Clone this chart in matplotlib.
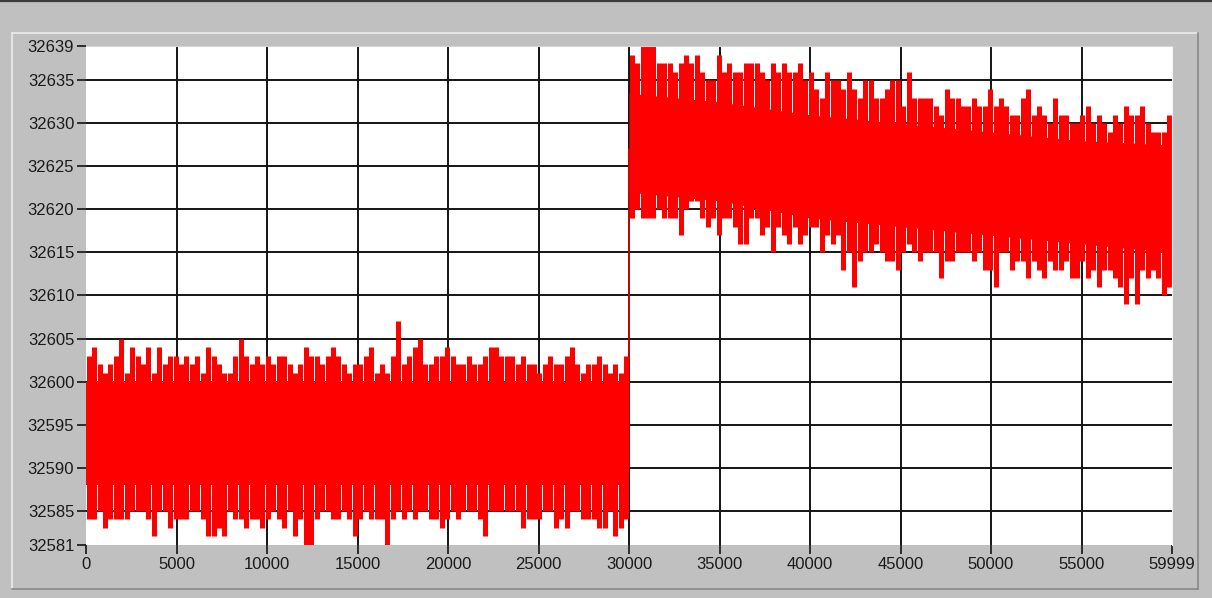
import numpy as np
import matplotlib.pyplot as plt
from matplotlib.lines import Line2D

# samples are grouped in bins of 300; each bin keeps the max / min
BIN = 300

LEFT_HI = [32603, 32604, 32602, 32601, 32602, 32603, 32605, 32601, 32604, 32603,
           32602, 32604, 32601, 32604, 32602, 32603, 32603, 32602, 32603, 32602,
           32603, 32601, 32604, 32603, 32602, 32601, 32601, 32603, 32605, 32603,
           32602, 32603, 32602, 32603, 32602, 32603, 32603, 32602, 32601, 32602,
           32604, 32603, 32603, 32602, 32603, 32604, 32603, 32602, 32601, 32602,
           32602, 32603, 32604, 32601, 32602, 32601, 32603, 32607, 32602, 32603,
           32604, 32605, 32602, 32602, 32603, 32603, 32604, 32603, 32602, 32602,
           32603, 32602, 32602, 32603, 32604, 32604, 32603, 32603, 32603, 32602,
           32603, 32602, 32602, 32601, 32602, 32603, 32602, 32602, 32603, 32604,
           32602, 32601, 32602, 32602, 32603, 32602, 32601, 32602, 32601, 32603]

LEFT_LO = [32584, 32584, 32585, 32583, 32584, 32584, 32584, 32584, 32585, 32585,
           32585, 32584, 32582, 32585, 32585, 32583, 32584, 32584, 32584, 32585,
           32585, 32584, 32582, 32582, 32583, 32582, 32585, 32584, 32584, 32583,
           32584, 32584, 32583, 32584, 32585, 32584, 32583, 32585, 32582, 32584,
           32581, 32581, 32584, 32585, 32585, 32584, 32584, 32585, 32584, 32582,
           32584, 32585, 32584, 32584, 32584, 32581, 32584, 32585, 32584, 32585,
           32584, 32585, 32585, 32584, 32584, 32583, 32584, 32585, 32584, 32585,
           32585, 32585, 32584, 32582, 32585, 32585, 32585, 32585, 32585, 32585,
           32583, 32584, 32584, 32584, 32585, 32585, 32583, 32584, 32583, 32585,
           32585, 32584, 32584, 32584, 32583, 32583, 32585, 32582, 32583, 32584]

RIGHT_HI = [32638, 32637, 32639, 32639, 32639, 32637, 32637, 32637, 32636, 32637,
            32638, 32637, 32638, 32636, 32635, 32635, 32638, 32636, 32637, 32636,
            32636, 32637, 32637, 32637, 32636, 32635, 32637, 32636, 32637, 32636,
            32636, 32637, 32635, 32636, 32634, 32633, 32636, 32635, 32635, 32634,
            32636, 32634, 32633, 32635, 32635, 32633, 32633, 32634, 32635, 32635,
            32632, 32636, 32633, 32633, 32633, 32633, 32632, 32631, 32634, 32633,
            32633, 32632, 32632, 32633, 32632, 32632, 32634, 32632, 32633, 32632,
            32631, 32631, 32633, 32634, 32631, 32632, 32631, 32630, 32633, 32631,
            32631, 32630, 32630, 32631, 32632, 32630, 32631, 32630, 32629, 32631,
            32630, 32632, 32631, 32631, 32632, 32630, 32629, 32629, 32629, 32631]

RIGHT_LO = [32619, 32620, 32619, 32619, 32619, 32620, 32619, 32619, 32619, 32617,
            32620, 32621, 32621, 32619, 32618, 32619, 32617, 32619, 32619, 32618,
            32616, 32616, 32619, 32619, 32617, 32618, 32615, 32618, 32617, 32616,
            32618, 32616, 32617, 32618, 32618, 32615, 32617, 32616, 32617, 32613,
            32615, 32611, 32614, 32615, 32615, 32616, 32615, 32614, 32614, 32613,
            32615, 32616, 32615, 32614, 32615, 32615, 32615, 32612, 32614, 32614,
            32615, 32615, 32615, 32614, 32615, 32613, 32613, 32611, 32615, 32615,
            32613, 32614, 32614, 32612, 32614, 32613, 32612, 32614, 32613, 32613,
            32614, 32612, 32612, 32614, 32612, 32613, 32611, 32613, 32613, 32612,
            32611, 32609, 32612, 32609, 32613, 32612, 32613, 32612, 32610, 32611]

# solid part of each band (where every column is filled)
CORE_LEFT_X = [0, 29999]
CORE_LEFT_TOP = [32600, 32600]
CORE_LEFT_BOT = [32588, 32588]
CORE_RIGHT_X = [30000, 35000, 40000, 45000, 50000, 55000, 59999]
CORE_RIGHT_TOP = [32633.5, 32632.5, 32631, 32630, 32629, 32628, 32627.5]
CORE_RIGHT_BOT = [32622, 32621, 32619, 32618, 32617, 32616, 32615]

# step at sample 30000
STEP_X = [29999, 30000]
STEP_Y = [32590, 32627]

YTICKS = [32581, 32585, 32590, 32595, 32600, 32605, 32610, 32615,
          32620, 32625, 32630, 32635, 32639]
XTICKS = [0, 5000, 10000, 15000, 20000, 25000, 30000, 35000, 40000,
          45000, 50000, 55000, 59999]

W, H = 1212, 598
BG = '#c0c0c0'
fig = plt.figure(figsize=(W / 100, H / 100), dpi=100, facecolor=BG)


def fx(px):
    return px / W


def fy(py):
    return 1 - py / H


# window frame bits
fig.add_artist(Line2D([0, 1], [fy(1), fy(1)], color='#3c3c3c', lw=1.6))
fig.add_artist(Line2D([fx(12), fx(1198)], [fy(33), fy(33)], color='#ececec', lw=1.2))
fig.add_artist(Line2D([fx(12), fx(12)], [fy(33), fy(589)], color='#ececec', lw=1.2))
fig.add_artist(Line2D([fx(1198), fx(1198)], [fy(33), fy(589)], color='#888888', lw=1.2))
fig.add_artist(Line2D([fx(12), fx(1198)], [fy(589), fy(589)], color='#888888', lw=1.2))

ax = fig.add_axes([fx(86), fy(545), fx(1172) - fx(86), fy(46) - fy(545)])
ax.set_facecolor('white')
ax.set_xlim(0, 59999)
ax.set_ylim(32581, 32639)

for v in range(32585, 32636, 5):
    ax.axhline(v, color='#141414', lw=1.4, zorder=1)
for v in range(5000, 59999, 5000):
    ax.axvline(v, color='#141414', lw=1.4, zorder=1)

red = '#ff0000'
left_x = np.arange(len(LEFT_HI)) * BIN + BIN / 2
right_x = 30000 + np.arange(len(RIGHT_HI)) * BIN + BIN / 2

ax.fill_between(CORE_LEFT_X, CORE_LEFT_BOT, CORE_LEFT_TOP, color=red, lw=0, zorder=2)
ax.fill_between(CORE_RIGHT_X, CORE_RIGHT_BOT, CORE_RIGHT_TOP, color=red, lw=0, zorder=2)
ax.vlines(left_x, LEFT_LO, LEFT_HI, color=red, lw=3.6, capstyle='butt', zorder=2)
ax.vlines(right_x, RIGHT_LO, RIGHT_HI, color=red, lw=3.6, capstyle='butt', zorder=2)
ax.plot(STEP_X, STEP_Y, color=red, lw=1.0, zorder=2)

ax.set_yticks(YTICKS)
ax.set_xticks(XTICKS)
ax.set_yticklabels([str(t) for t in YTICKS])
ax.set_xticklabels([str(t) for t in XTICKS])
ax.tick_params(direction='out', length=6.5, width=1.2, color='#141414',
               labelsize=12, labelcolor='#1a1a1a', pad=2)
for lab in ax.get_xticklabels() + ax.get_yticklabels():
    lab.set_fontfamily('Liberation Sans')

for side in ['left', 'bottom']:
    ax.spines[side].set_visible(False)
ax.spines['top'].set_color('#d4d4d4')
ax.spines['right'].set_color('#f4f4f4')

fig.savefig('out.png', dpi=100, facecolor=BG)
